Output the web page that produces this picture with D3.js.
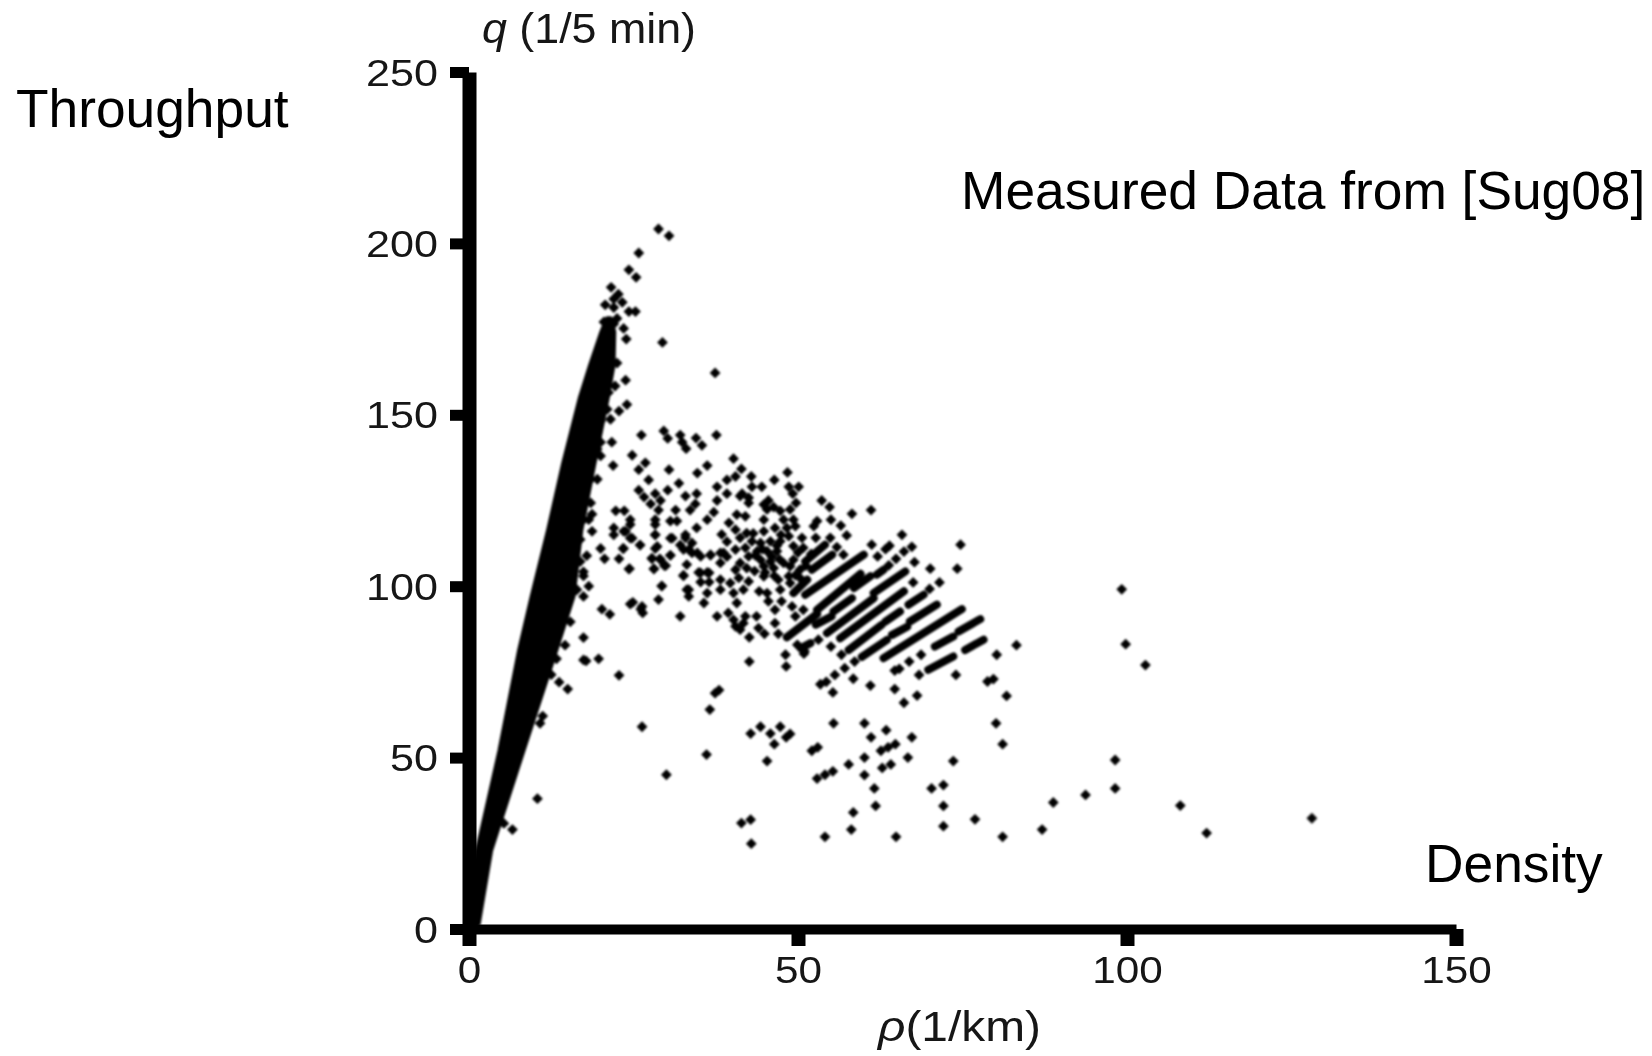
<!DOCTYPE html>
<html><head><meta charset="utf-8">
<script src="https://cdn.jsdelivr.net/npm/d3@7/dist/d3.min.js"></script>
<style>html,body{margin:0;background:#fff}svg{display:block}text{font-family:"Liberation Sans",Arial,sans-serif}</style>
</head><body><svg id="c" width="1652" height="1056"></svg>
<script>
const xTicks=[0,50,100,150];
const yTicks=[0,50,100,150,200,250];
// dense core of the free-flow branch: q level, left and right density edge
const coreQ=[0,1.5,23,52,81.4,97,116.4,135.9,154.8,164.6,174.2,178];
const coreLeft=[0,0,1.3,4.7,7.7,9.6,12.1,14.4,16.9,18.5,20.2,21];
const coreRight=[0,1.4,3.3,8.2,13.2,15.8,17,19,21,21.9,22,21.5];
// runs of overlapping measurements on the quantised lattice [rho1,q1,rho2,q2]
const runs=[[48.3,85.1,52.9,91.9],[52.7,88.8,55.1,91.2],[51.1,97.5,60,109.2],[52.9,93.1,59.5,103.6],[51.1,107.2,54.1,112.1],[52.1,104.8,55.2,109.2],[49.3,98,51.4,101.9],[58.5,99.5,61,102.9],[55.4,92.6,58.2,96.5],[54.4,86.3,61.5,96.5],[61.5,98,66.3,104.3],[56.4,84.8,66.1,98.5],[57.7,81.4,62.7,88.7],[63.3,89.7,65.5,92.6],[59.7,79.4,63.5,84.3],[64.3,85.8,66.6,88.2],[67,89.7,71.1,94.6],[66.8,94.6,69.1,97.5],[63,79,74.9,93.3],[70.8,82.4,73.6,85.3],[74.4,86.8,77.7,90.4],[75.4,81.4,78.2,84.4],[69.8,75.6,73.6,79.5],[50.4,81.9,51.9,83.4],[62,103.4,63,104.8]];
const pointsTop=[[28.8,204.2],[30.4,202.2],[25.8,197.2],[24.3,192.3],[25.4,190.1],[21.6,187.2],[22.7,185.2],[22,183.8],[20.7,182.1],[23.3,182.8],[22,181.3],[24.3,180.1],[25.3,180.1],[22.5,178.1],[20.5,177.1],[22,176.5],[23.5,175.2],[23.9,172.1],[29.4,171.1],[37.4,162.2],[22.5,165.1],[23.8,160.1],[24,153],[22.8,151.1],[21.5,148.7],[26.2,144.1],[29.6,145.3],[30.2,143.1],[32.1,144.1],[32.4,142],[33,140.1],[34.5,143.2],[35.4,141.1],[37.6,144.1],[21.7,142],[20,142],[19.5,140],[20,138],[24.8,138.2],[21.9,135.2],[26.8,136],[25.8,134],[30.4,134],[36.2,135.2],[34.7,133],[40.2,137.2],[41.4,134.2],[40.5,132],[39.2,131],[42.9,132],[46.4,131],[48.4,133.2],[27.3,131],[31.9,130],[25.8,128],[30.2,128],[28.3,127],[26.6,126],[34.6,127],[37.7,129],[39.2,127],[43,129],[44.5,129],[48.6,129],[50.1,129],[49.2,127],[41.5,127],[37.7,125],[42.5,125.8],[45.5,125],[53.6,125],[29.1,125],[27.6,124],[28.8,122.2],[32.9,126.3],[34.4,124],[33.6,122.2],[37.2,121.6],[31.4,122.2],[22.3,122],[23.6,122],[18.5,124.3],[18.7,121],[17.4,119.4],[24.5,119.4],[22,117],[23.5,116],[18.7,116],[22,115],[28.3,119.4],[30.6,119],[31.6,119],[36.2,119.4],[34.6,117],[28.3,115],[24.5,114],[26,112],[30.6,114],[32.9,115],[20,111],[23.4,111],[28.6,111.6],[32.1,112],[33.4,110.7],[17.9,108.9],[20.6,108],[22.8,108],[27.8,108],[29,108],[30.6,109],[34.7,109.7],[36.7,109],[38.7,109.7],[24.3,105],[28.1,105],[29.7,106],[32.6,103],[34.9,104],[36.2,104],[18.2,100],[17.4,97],[29.3,100],[33.1,99]];
const pointsEdge=[[22.2,158.4],[21.2,156.5],[21,151.6],[20,148.2],[19.5,145],[19.2,140.4],[19,138],[19.5,131.2],[18.5,131.2],[17.4,127.2],[18.2,119.4],[16.9,118.9],[16.9,113.6],[16.9,107.2],[17.4,104.2],[16.4,99],[17.4,103],[16.2,98.8],[15.4,89.6],[14.6,82.8],[13.3,78.8],[12.5,74.2],[17.8,78.2],[20.2,93.3],[21.4,91.8],[24.5,94.8],[26.1,93.3],[17.4,85],[19.7,78.8],[15,70]];
const pointsCluster=[[54.8,123.1],[58.2,121.1],[61.1,122.2],[52.9,119],[52.4,117.5],[55,119.4],[56.5,117.7],[57.4,114.8],[54.9,114.1],[52.7,114.1],[65.8,115],[63.9,111.8],[63.3,110.8],[67.3,111.5],[74.7,112.1],[61.2,112.1],[66.1,110.1],[62.1,108.7],[64.9,108],[63.8,106.1],[67.7,107],[70.1,105.1],[74.2,105.1],[67.5,101.1],[71.5,101.1],[70,99.2],[55.9,111.4],[56.9,109.2],[49.9,82.9],[53.1,84.4],[55,82.4],[51,81],[49.7,124.3],[41.2,126.3],[42.5,124.3],[44.8,123.8],[46.3,123.1],[48.8,122.4],[47.3,122],[45.3,122.4],[40.7,120.9],[42,120.4],[39.5,118.5],[40.5,116.5],[44.8,119.4],[47.8,119.4],[49.3,119.4],[46.5,117],[48.3,117],[49.6,117.5],[38.4,115.1],[42.2,115.5],[43,113.1],[44.3,112.6],[41.2,114.1],[45.8,113.1],[47.3,113.1],[48.6,114.6],[50.6,114.1],[39.2,113],[40.5,110.7],[42,111.2],[43.8,110.2],[45.3,110.2],[46.8,110.2],[49.3,111.7],[50.8,111.2],[38.2,109.7],[39.2,108.6],[41.2,106.8],[44.3,107.7],[45.8,107.2],[47.8,106.8],[49.3,107.7],[36.7,109.2],[38.2,106.8],[42.5,108.7],[40.5,104.8],[42.2,105.3],[44.8,105.8],[46.3,105.3],[48.8,105.8],[50.3,104.8],[41,102.4],[42.5,101.4],[44.8,102.9],[47,101.9],[48.6,102.9],[44.1,98.5],[45.3,98],[47.3,99],[48.8,100.9],[40.2,98],[41.7,99],[38.2,99],[39.7,100.9],[40.7,95.1],[45.5,95.6],[46.5,93.1],[47.5,95.6],[49.1,94.1],[50.8,93.1],[49.6,91.2],[39.4,92.2],[40.2,90.2],[42,91.2],[43.7,91.2],[40.5,88.3],[41.7,89.2],[41.2,87.3],[44,87.8],[42.6,85.1],[44.9,86.1],[46.5,89.2],[47,86.1],[37.7,91.2],[32.1,91.2],[24.5,118],[28.3,118],[23.8,116],[24.8,114],[28.3,115],[30.9,114],[26,112],[23.5,111],[28.3,111],[32.9,114.1],[33.9,112.6],[32.6,110.7],[30.6,109],[27.8,108.2],[29.1,107.7],[29.9,106],[33.9,109.7],[35.2,108.7],[33.1,106.3],[24.4,105.1],[28.1,105.1],[32.6,103.2],[35.2,103.9],[36.5,103.9],[35.2,101.2],[36.5,101.2],[38.2,101.9],[29.3,100.1],[33.4,99],[33.4,97],[36.2,98],[35.7,95.1],[28.8,96.1],[24.9,95.3],[26.3,94.1],[26.4,92.2],[43.5,109],[44.6,110.8],[46,108.6],[47.2,107.8],[45,104],[46.4,103],[43.4,104.4],[50,109.8],[51.2,106],[49.6,103.2],[46.8,111.8],[43.2,115.4],[44.8,116],[47.4,115],[52,109.4],[50.2,102.6]];
const pointsLow=[[17.4,78.5],[13.7,72],[22.8,74],[11.2,62.1],[10.8,60],[10.4,38],[6.6,29],[5.3,30.8],[26.3,59],[30,45],[36.6,64],[36.1,50.9],[38,69.7],[37.4,68.8],[42.6,78],[48.2,76.6],[48.1,80],[50.9,80.3],[44.3,59],[42.8,57],[45.8,57],[47.3,59],[48.8,56.9],[48.2,55.9],[46.4,53.9],[45.3,49],[55.4,60],[60.1,60],[63.4,58],[61.1,55.9],[67.3,55.9],[53,53],[52.1,52],[64.8,53.9],[63.7,53],[62.6,52],[60.1,50],[66.7,50],[57.7,48],[64.1,48],[62.8,47],[55.3,46],[54.1,45],[52.9,43.9],[60.1,44.9],[61.6,41],[70.3,41],[72.1,42],[73.6,49],[61.8,35.9],[72.1,35.9],[88.8,36.9],[58.4,34],[42.8,31.9],[41.4,30.9],[76.9,32],[58.1,29],[72.1,30],[87.1,29],[54.1,26.9],[64.9,26.9],[81.1,26.9],[42.9,24.9],[80.1,60],[81.1,53.9],[93.7,39.1],[98.2,41],[98.2,49.3],[99.2,99.1],[99.8,83.1],[102.8,77],[108.1,36],[112.1,28],[128.1,32.3],[83.2,82.8],[80.2,80],[78.8,72.2],[79.7,72.9],[81.7,68],[74,74.1],[68.1,68.1],[66.1,66],[64.7,70],[61,71],[55.3,69],[53.4,71.4],[54.3,72.1],[58.4,73],[55.6,74.1],[57.1,76.1],[58.6,78],[56.6,80],[66.9,78],[68.7,80],[68.4,74.1],[64.7,75.4],[65.4,75.9]];

const svg=d3.select("#c");
const x=d3.scaleLinear().domain([0,150]).range([469,1456]);
const y=d3.scaleLinear().domain([0,250]).range([929,72]);
svg.append("defs").append("filter").attr("id","soft").attr("x","-5%").attr("y","-5%").attr("width","110%").attr("height","110%")
  .append("feGaussianBlur").attr("stdDeviation",0.8);
const marks=svg.append("g").attr("filter","url(#soft)");
const coreRows=d3.zip(coreQ,coreLeft,coreRight);
marks.append("path").datum(coreRows)
  .attr("d",d3.area().y(d=>y(d[0])).x0(d=>x(d[1])).x1(d=>x(d[2])))
  .attr("fill","#000").attr("stroke","#000").attr("stroke-width",5).attr("stroke-linejoin","round");
marks.append("g").selectAll("path").data(runs).join("path")
  .attr("d",d=>d3.line()([[x(d[0]),y(d[1])],[x(d[2]),y(d[3])]]))
  .attr("stroke","#000").attr("stroke-width",8).attr("stroke-linecap","round").attr("fill","none");
const sym=d3.symbol(d3.symbolSquare,58)();
marks.append("g").selectAll("path").data([...pointsTop,...pointsEdge,...pointsCluster,...pointsLow]).join("path")
  .attr("d",sym).attr("transform",d=>`translate(${x(d[0])},${y(d[1])}) rotate(45)`).attr("fill","#000");

function styleAxis(g){
  g.select(".domain").attr("stroke","#000");
  g.selectAll("text").attr("fill","#161616").attr("font-size",36);
}
const gx=svg.append("g").attr("transform","translate(0,929)")
  .call(d3.axisBottom(x).tickValues(xTicks).tickSize(17).tickSizeOuter(0).tickPadding(10));
gx.call(styleAxis);
gx.select(".domain").attr("stroke-width",10);
gx.selectAll("line").attr("stroke","#000").attr("stroke-width",14);
gx.selectAll("text").attr("dy",0).attr("y",54).attr("textLength",d=>String(d).length*23.5).attr("lengthAdjust","spacingAndGlyphs");
const gy=svg.append("g").attr("transform","translate(469,0)")
  .call(d3.axisLeft(y).tickValues(yTicks).tickSize(19).tickSizeOuter(0).tickPadding(12));
gy.call(styleAxis);
gy.select(".domain").attr("stroke-width",14);
gy.selectAll("line").attr("stroke","#000").attr("stroke-width",11);
gy.selectAll("text").attr("dy",13).attr("x",-31).attr("textLength",d=>String(d).length*24).attr("lengthAdjust","spacingAndGlyphs");

const yLab=svg.append("text").attr("x",482).attr("y",43).attr("font-size",42).attr("fill","#161616")
  .attr("textLength",214).attr("lengthAdjust","spacingAndGlyphs");
yLab.append("tspan").attr("font-style","italic").text("q");
yLab.append("tspan").text(" (1/5 min)");
const xLab=svg.append("text").attr("x",878).attr("y",1041).attr("font-size",42).attr("fill","#161616")
  .attr("textLength",163).attr("lengthAdjust","spacingAndGlyphs");
xLab.append("tspan").attr("font-style","italic").text("ρ");
xLab.append("tspan").text("(1/km)");
const notes=[["Throughput",16,127],["Measured Data from [Sug08]",961,209],["Density",1425,882]];
svg.append("g").selectAll("text").data(notes).join("text")
  .attr("x",d=>d[1]).attr("y",d=>d[2]).attr("font-size",53.3).attr("fill","#000").text(d=>d[0]);
</script></body></html>
